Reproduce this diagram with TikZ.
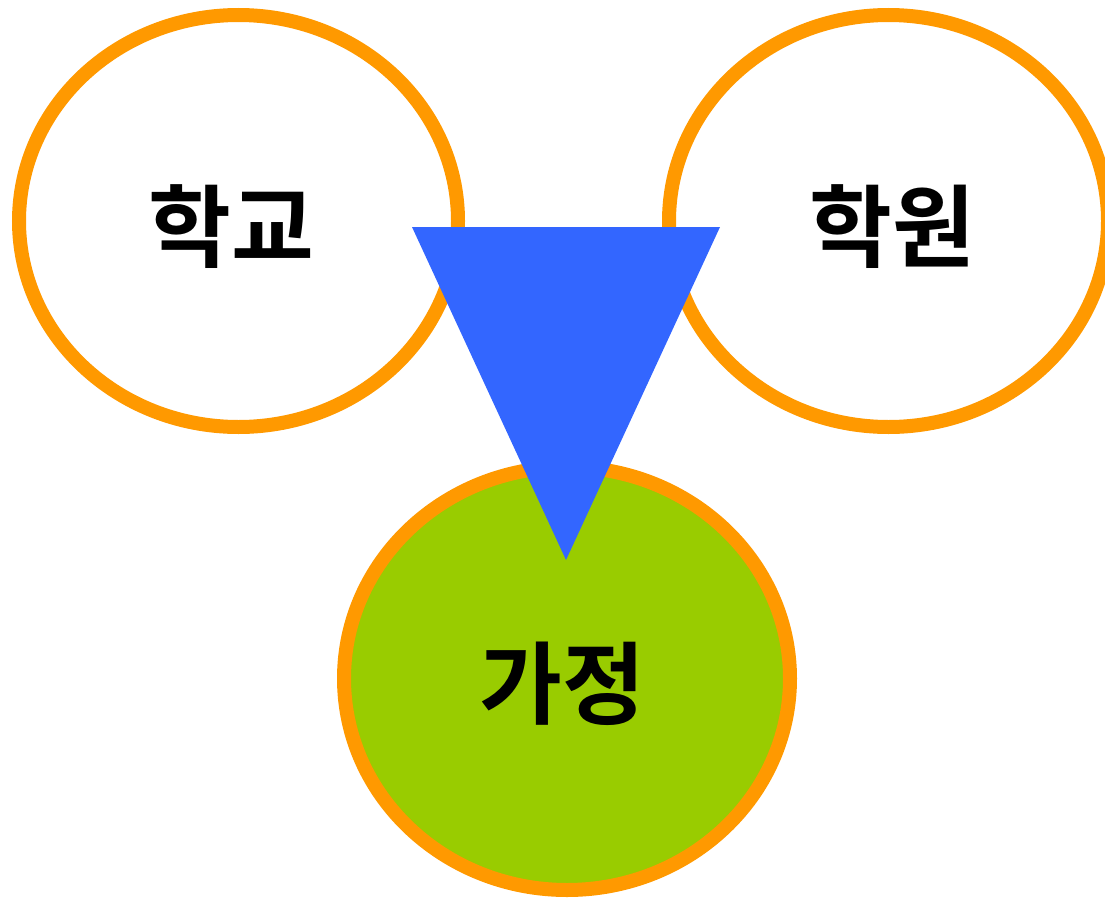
\documentclass[tikz,border=0pt]{standalone}
\usepackage{fontspec}
\newfontfamily\kr{Noto Sans CJK KR Bold}
\definecolor{ring}{HTML}{FF9900}
\definecolor{leaf}{HTML}{99CC00}
\definecolor{tri}{HTML}{3366FF}
\begin{document}
\begin{tikzpicture}[x=1pt,y=-1pt,
  ringstyle/.style={draw=ring,line width=14pt},
  label/.style={font=\kr\fontsize{90}{94}\selectfont,inner sep=0pt,anchor=base}]
\useasboundingbox (0,0) rectangle (1105,899);
\draw[ringstyle,fill=white] (238.5,221) ellipse [x radius=219.5,y radius=206];
\draw[ringstyle,fill=white] (888.5,221) ellipse [x radius=219.5,y radius=206];
\draw[ringstyle,fill=leaf] (567,678.5) ellipse [x radius=223,y radius=211.5];
\node[label] (school) at (231,260) {학교};
\node[label] (academy) at (892,260) {학원};
\node[label] (home) at (562,717) {가정};
\fill[tri] (412,227) -- (720,227) -- (566,560) -- cycle;
\end{tikzpicture}
\end{document}
